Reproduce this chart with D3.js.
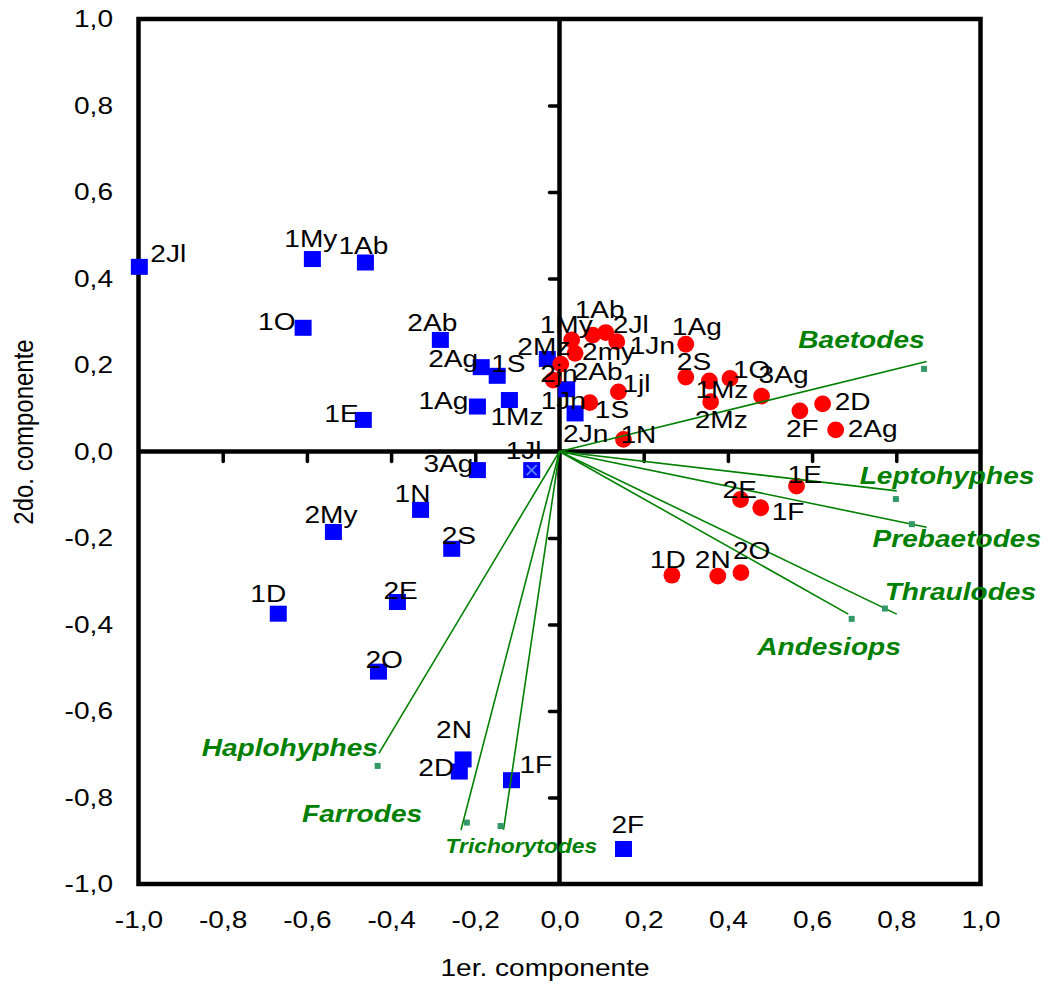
<!DOCTYPE html>
<html>
<head>
<meta charset="utf-8">
<script src="https://cdn.jsdelivr.net/npm/d3@7"></script>
<style>
  body { margin: 0; background: #fff; }
  svg { display: block; }
  text { font-family: "Liberation Sans", Arial, sans-serif; }
</style>
</head>
<body>
<svg id="chart" width="1050" height="987"></svg>
<script>
// ---- Scores of the samples (square markers) ----
const squareLabels = ["2Jl","1My","1Ab","1O","1E","2Ab","2Ag","1S","1Ag","1Mz","2Mz","1Jn","2Jn",
                      "3Ag","1Jl","1N","2S","2My","1D","2E","2O","2N","2D","1F","2F"];
const squarePC1 = [-0.998,-0.587,-0.461,-0.609,-0.466,-0.283,-0.186,-0.148,-0.195,-0.119,-0.029,0.017,0.037,
                   -0.195,-0.066,-0.330,-0.256,-0.537,-0.668,-0.385,-0.430,-0.229,-0.238,-0.114,0.152];
const squarePC2 = [0.427,0.445,0.437,0.286,0.073,0.258,0.195,0.175,0.104,0.119,0.214,0.144,0.088,
                   -0.043,-0.043,-0.135,-0.225,-0.186,-0.375,-0.348,-0.509,-0.712,-0.740,-0.760,-0.919];

// ---- Scores of the samples (circle markers) ----
const circleLabels = ["1My","1Ab","2Jl","1Jn","2my","2Ab","2jn","1jl","1S","1N","1Ag","2S","1Mz",
                      "1O","2Mz","3Ag","2F","2D","2Ag","1E","2E","1F","1D","2N","2O"];
const circlePC1 = [0.029,0.079,0.110,0.136,0.037,0.003,-0.015,0.140,0.072,0.152,0.300,0.300,0.356,
                   0.405,0.359,0.480,0.571,0.625,0.656,0.563,0.430,0.478,0.267,0.376,0.431];
const circlePC2 = [0.258,0.269,0.275,0.254,0.227,0.202,0.165,0.138,0.113,0.028,0.248,0.172,0.163,
                   0.169,0.115,0.128,0.094,0.110,0.050,-0.080,-0.111,-0.130,-0.286,-0.288,-0.280];

// ---- Cross marker overlapping one square ----
const crossPC1 = [-0.066];
const crossPC2 = [-0.043];

// ---- Taxa loadings (vector tips and their point markers) ----
const taxa = ["Baetodes","Leptohyphes","Prebaetodes","Thraulodes","Andesiops","Haplohyphes","Farrodes","Trichorytodes"];
const taxaPC1 = [0.872, 0.801, 0.872, 0.801, 0.686, -0.429, -0.234, -0.133];
const taxaPC2 = [0.208, -0.091, -0.175, -0.376, -0.376, -0.698, -0.875, -0.875];
const taxaMarkPC1 = [0.866, 0.799, 0.837, 0.773, 0.694, -0.432, -0.220, -0.140];
const taxaMarkPC2 = [0.191, -0.110, -0.168, -0.363, -0.387, -0.727, -0.858, -0.866];

// ---- Axis ticks ----
const axisTicks = [-1,-0.8,-0.6,-0.4,-0.2,0,0.2,0.4,0.6,0.8,1];
const axisTickLabels = ["-1,0","-0,8","-0,6","-0,4","-0,2","0,0","0,2","0,4","0,6","0,8","1,0"];
const innerTicks = [-0.8,-0.6,-0.4,-0.2,0.2,0.4,0.6,0.8];
const xTitle = "1er. componente";
const yTitle = "2do. componente";

// ---- Label nudges in pixels (text start, baseline) ----
const squareLabelDx = [11,-28,-27,-45,-39,-33,-53,-6,-59,-19,-30,-26,-12,-54,-26,-26,-10,-29,-28,-14,-13,-27,-41,8,-12];
const squareLabelDy = [-5,-12,-8,2,2,-9,0,-4,2,25,-4,20,29,2,-11,-8,-5,-9,-12,-3,-4,-21,4,-7,-16];
const circleLabelDx = [-32,-18,7,13,7,12,-13,4,5,-3,-14,-9,-14,3,-16,-3,-14,12,12,-9,-18,11,-22,-23,-8];
const circleLabelDy = [-7,-17,0,12,7,16,2,0,15,4,-9,-7,17,0,26,-13,26,6,7,-3,-2,12,-7,-8,-14];
const taxaLabelAnchor = ["end","start","start","start","start","end","start","start"];
const taxaLabelDx = [-2,-37,-54,-12,-91,-1,-159,-58];
const taxaLabelDy = [-14,-7,20,-14,41,3,-8,23];
const taxaLabelSize = [24,24,24,24,24,24,24,19.5];

const SX = 1.17; // horizontal text stretch

const x = d3.scaleLinear().domain([-1, 1]).range([138.5, 980.5]);
const y = d3.scaleLinear().domain([-1, 1]).range([884, 19]);

const svg = d3.select("#chart");

// Outer frame
svg.append("rect")
  .attr("x", x(-1)).attr("y", y(1))
  .attr("width", x(1) - x(-1)).attr("height", y(-1) - y(1))
  .attr("fill", "none").attr("stroke", "#000").attr("stroke-width", 4.5);

// Zero lines
svg.append("line")
  .attr("x1", x(-1)).attr("x2", x(1)).attr("y1", y(0)).attr("y2", y(0))
  .attr("stroke", "#000").attr("stroke-width", 4.5);
svg.append("line")
  .attr("x1", x(0)).attr("x2", x(0)).attr("y1", y(-1)).attr("y2", y(1))
  .attr("stroke", "#000").attr("stroke-width", 4.5);

// Tick marks on the zero lines
svg.append("g")
  .attr("transform", `translate(0,${y(0)})`)
  .call(d3.axisBottom(x).tickValues(innerTicks).tickSize(10).tickFormat(""))
  .call(g => g.select(".domain").remove())
  .selectAll("line").attr("stroke", "#000").attr("stroke-width", 3.5).attr("stroke-linecap", "round");
svg.append("g")
  .attr("transform", `translate(${x(0)},0)`)
  .call(d3.axisLeft(y).tickValues(innerTicks).tickSize(10).tickFormat(""))
  .call(g => g.select(".domain").remove())
  .selectAll("line").attr("stroke", "#000").attr("stroke-width", 3.5).attr("stroke-linecap", "round");

// Tick labels around the frame
const xAxis = svg.append("g")
  .attr("transform", `translate(0,${y(-1)})`)
  .call(d3.axisBottom(x).tickValues(axisTicks).tickSize(0).tickPadding(27)
    .tickFormat((d, i) => axisTickLabels[i]));
xAxis.select(".domain").remove();
xAxis.selectAll("text")
  .attr("font-size", 24).attr("fill", "#000")
  .attr("font-family", '"Liberation Sans", Arial, sans-serif')
  .attr("transform", `scale(${SX},1)`);

const yAxis = svg.append("g")
  .attr("transform", `translate(${x(-1)},0)`)
  .call(d3.axisLeft(y).tickValues(axisTicks).tickSize(0).tickPadding(21.8)
    .tickFormat((d, i) => axisTickLabels[i]));
yAxis.select(".domain").remove();
yAxis.selectAll("text")
  .attr("font-size", 24).attr("fill", "#000")
  .attr("font-family", '"Liberation Sans", Arial, sans-serif')
  .attr("transform", `scale(${SX},1)`);

// Axis titles
svg.append("text")
  .attr("transform", `translate(545,976) scale(${SX},1)`)
  .attr("text-anchor", "middle").attr("font-size", 24).attr("fill", "#000")
  .text(xTitle);
svg.append("text")
  .attr("transform", `translate(33,432) scale(${SX},1) rotate(-90)`)
  .attr("text-anchor", "middle").attr("font-size", 24).attr("fill", "#000")
  .text(yTitle);

// Square markers
svg.append("g").selectAll("rect")
  .data(squareLabels.map((l, i) => ({ l, a: squarePC1[i], b: squarePC2[i] })))
  .join("rect")
  .attr("x", d => x(d.a) - 8.5).attr("y", d => y(d.b) - 8)
  .attr("width", 17).attr("height", 16)
  .attr("fill", "#0000ff");

// Cross marker
const crossG = svg.append("g").attr("stroke", "#5f86ff").attr("stroke-width", 1.6);
crossPC1.forEach((a, i) => {
  const cx = x(a), cy = y(crossPC2[i]);
  crossG.append("line").attr("x1", cx - 5).attr("y1", cy - 5).attr("x2", cx + 5).attr("y2", cy + 5);
  crossG.append("line").attr("x1", cx - 5).attr("y1", cy + 5).attr("x2", cx + 5).attr("y2", cy - 5);
});

// Circle markers
svg.append("g").selectAll("circle")
  .data(circleLabels.map((l, i) => ({ l, a: circlePC1[i], b: circlePC2[i] })))
  .join("circle")
  .attr("cx", d => x(d.a)).attr("cy", d => y(d.b)).attr("r", 8.4)
  .attr("fill", "#ff0000");

// Taxa vectors
const taxaData = taxa.map((t, i) => ({
  t, a: taxaPC1[i], b: taxaPC2[i], ma: taxaMarkPC1[i], mb: taxaMarkPC2[i],
  anchor: taxaLabelAnchor[i], dx: taxaLabelDx[i], dy: taxaLabelDy[i], size: taxaLabelSize[i]
}));
svg.append("g").selectAll("line")
  .data(taxaData).join("line")
  .attr("x1", x(0)).attr("y1", y(0))
  .attr("x2", d => x(d.a)).attr("y2", d => y(d.b))
  .attr("stroke", "#008000").attr("stroke-width", 1.6);
svg.append("g").selectAll("rect")
  .data(taxaData).join("rect")
  .attr("x", d => x(d.ma) - 3).attr("y", d => y(d.mb) - 3)
  .attr("width", 6).attr("height", 6)
  .attr("fill", "#339966");

// Sample labels
function sampleLabels(labels, pc1, pc2, dxs, dys) {
  svg.append("g").selectAll("text")
    .data(labels.map((l, i) => ({ l, a: pc1[i], b: pc2[i], dx: dxs[i], dy: dys[i] })))
    .join("text")
    .attr("transform", d => `translate(${x(d.a) + d.dx},${y(d.b) + d.dy}) scale(${SX},1)`)
    .attr("font-size", 24).attr("fill", "#000")
    .text(d => d.l);
}
sampleLabels(squareLabels, squarePC1, squarePC2, squareLabelDx, squareLabelDy);
sampleLabels(circleLabels, circlePC1, circlePC2, circleLabelDx, circleLabelDy);

// Taxa labels
svg.append("g").selectAll("text")
  .data(taxaData).join("text")
  .attr("transform", d => `translate(${x(d.a) + d.dx},${y(d.b) + d.dy}) scale(${SX},1)`)
  .attr("text-anchor", d => d.anchor)
  .attr("font-size", d => d.size)
  .attr("font-weight", "bold").attr("font-style", "italic")
  .attr("fill", "#008000")
  .text(d => d.t);
</script>
</body>
</html>
